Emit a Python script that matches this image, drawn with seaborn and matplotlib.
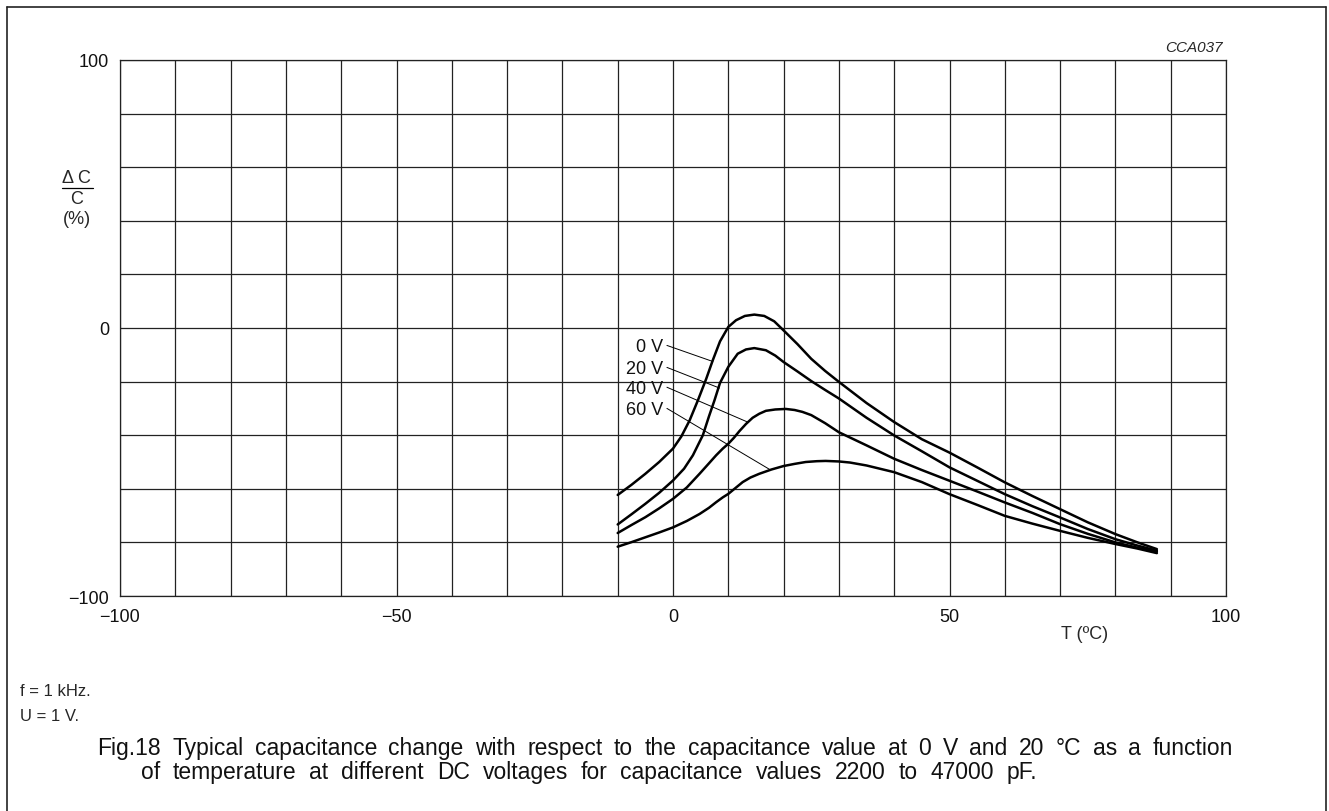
"""
Fig.18 - capacitance change vs temperature at different DC voltages.
"""
import pandas as pd
import matplotlib.pyplot as plt
import seaborn as sns
from matplotlib.lines import Line2D

# curves: temperature (deg C) and delta C / C (%)
T_0V = [-10, -7.5, -5, -2.5, 0, 1.5, 3, 4.5, 6, 7.2, 8.5, 10, 11.4, 13, 14.7,
        16.5, 18.3, 20, 22.5, 25, 27.5, 30, 35, 40, 45, 50, 55, 60, 65, 70,
        75, 80, 84, 87.5]
DC_0V = [-62.3, -58.5, -54.4, -50, -45, -40.5, -34.5, -27, -19, -12, -5, 0.4,
         2.9, 4.5, 5, 4.5, 2.5, -0.9, -6, -11.5, -16, -20.1, -28, -35.1, -41.5,
         -46.5, -52, -57.6, -62.7, -67.6, -72.5, -76.9, -80, -82.5]

T_20V = [-10, -7.5, -5, -2.5, 0, 2, 3.6, 5.4, 6.5, 7.5, 8.5, 10, 11.7, 13.2,
         14.7, 16.8, 18.5, 20, 22.5, 25, 27.5, 30, 35, 40, 45, 50, 55, 60, 65,
         70, 75, 80, 84, 87.5]
DC_20V = [-73.3, -69.5, -65.6, -61.5, -56.9, -52.5, -47.5, -40, -33, -27,
          -20.5, -14.5, -9.6, -8, -7.5, -8.3, -10.3, -12.7, -16.2, -19.8,
          -23.1, -26.3, -33.5, -40.1, -46, -52, -57, -62, -66.5, -70.7, -75,
          -78.8, -81.2, -83.1]

T_40V = [-10, -7.5, -5, -2.5, 0, 2.5, 4.8, 6.5, 7.8, 9, 10, 11, 12, 13.2,
         14.4, 15.6, 16.8, 18.5, 20.4, 22, 23.4, 25, 27.5, 30, 35, 40, 45, 50,
         55, 60, 65, 70, 75, 80, 84, 87.5]
DC_40V = [-76.5, -73.5, -70.6, -67.3, -63.75, -59.5, -54.4, -50.5, -47.5, -45,
          -43.2, -41, -38.5, -35.8, -33.5, -32, -30.9, -30.4, -30.2, -30.6,
          -31.3, -32.5, -35.5, -38.9, -43.8, -48.8, -53, -57, -61, -65.1, -69,
          -73.2, -76.8, -80, -82, -83.5]

T_60V = [-10, -7.5, -5, -2.5, 0, 2.5, 4.8, 6.5, 7.8, 9, 10, 11.3, 12.6, 14,
         15.6, 17.8, 20, 22, 24, 26, 27.6, 30, 32, 35, 40, 45, 50, 55, 60, 65,
         70, 75, 80, 84, 87.5]
DC_60V = [-81.6, -79.9, -78.1, -76.3, -74.4, -72, -69.4, -67.1, -65, -63.2,
          -61.9, -59.7, -57.5, -55.8, -54.4, -52.8, -51.5, -50.7, -50, -49.7,
          -49.6, -49.8, -50.2, -51.3, -53.8, -57.5, -62, -66, -70.1, -73,
          -75.7, -78.3, -80.6, -82.3, -84]

SERIES_NAMES = ["0 V", "20 V", "40 V", "60 V"]

# label height and where each leader line touches its curve
LABEL_Y = [-7, -15.2, -22.6, -30.5]
LEADER_END_T = [7.2, 8.4, 13.5, 17.5]
LEADER_END_V = [-12.5, -22.4, -35.1, -52.8]

X_TICKS = [-100, -50, 0, 50, 100]
Y_TICKS = [-100, 0, 100]

CAPTION_1 = ("Fig.18  Typical capacitance change with respect to the capacitance "
             "value at 0 V and 20 \u00b0C as a function")
CAPTION_2 = ("of temperature at different DC voltages for capacitance values "
             "2200 to 47000 pF.")

W, H = 1329, 812


def _justified(fig, text, x0, x1, y, size):
    # spread the words of one line between x0 and x1 (pixels)
    renderer = fig.canvas.get_renderer()
    words = text.replace("Fig.18  ", "Fig.18 ").split(" ")
    artists = [fig.text(0, 1 - y / H, w, fontsize=size, va="baseline",
                        ha="left", color="#111111") for w in words]
    widths = [a.get_window_extent(renderer).width for a in artists]
    gap = (x1 - x0 - sum(widths)) / (len(words) - 1)
    x = x0
    for a, wd in zip(artists, widths):
        a.set_x(x / W)
        x += wd + gap


sns.set_theme(style="white")
plt.rcParams["font.family"] = ["Liberation Sans", "DejaVu Sans"]

frames = []
for name, ts, vals in zip(SERIES_NAMES, [T_0V, T_20V, T_40V, T_60V],
                          [DC_0V, DC_20V, DC_40V, DC_60V]):
    frames.append(pd.DataFrame({"T": ts, "dC": vals, "U": name}))
df = pd.concat(frames, ignore_index=True)

fig = plt.figure(figsize=(W / 100, H / 100), dpi=100)
ax = fig.add_axes([120 / W, 1 - 597 / H, 1106 / W, 536 / H])

# grid first so the curves sit on top
for x in range(-100, 101, 10):
    ax.axvline(x, color="#222222", lw=0.9, zorder=1)
for y in range(-100, 101, 20):
    ax.axhline(y, color="#222222", lw=0.9, zorder=1)

sns.lineplot(data=df, x="T", y="dC", hue="U", palette=["black"] * 4,
             linewidth=1.8, legend=False, ax=ax, zorder=3)

for name, ly, et, ev in zip(SERIES_NAMES, LABEL_Y, LEADER_END_T, LEADER_END_V):
    ax.text(-1.8, ly, name, ha="right", va="center", fontsize=13,
            color="#111111", zorder=4)
    ax.plot([-1.1, et], [ly + 0.5, ev], color="black", lw=0.7, zorder=4)

ax.set_xlim(-100, 100)
ax.set_ylim(-100, 100)
ax.set_xticks(X_TICKS)
ax.set_xticklabels(["\u2212100", "\u221250", "0", "50", "100"])
ax.set_yticks(Y_TICKS)
ax.set_yticklabels(["\u2212100", "0", "100"])
ax.tick_params(axis="both", length=0, labelsize=13, colors="#111111")
ax.tick_params(axis="x", pad=9)
ax.tick_params(axis="y", pad=8)
ax.set_xlabel("")
ax.set_ylabel("")
for s in ax.spines.values():
    s.set_color("#222222")
    s.set_linewidth(0.9)

# axis labels drawn as text, datasheet style
ax.text(-107.8, 56, "\u0394 C", ha="center", va="center", fontsize=13,
        clip_on=False)
ax.add_line(Line2D([-110.5, -104.9], [52.4, 52.4], color="black", lw=0.9,
                   clip_on=False))
ax.text(-107.8, 48.3, "C", ha="center", va="center", fontsize=13,
        clip_on=False)
ax.text(-107.8, 41.0, "(%)", ha="center", va="center", fontsize=13,
        clip_on=False)
ax.text(74.5, -114, "T (\u00baC)", ha="center", va="center", fontsize=13,
        clip_on=False)
ax.text(99.5, 105, "CCA037", ha="right", va="center", fontsize=11,
        style="italic", clip_on=False)

# notes and caption
fig.text(20 / W, 1 - 692 / H, "f = 1 kHz.", ha="left", va="center",
         fontsize=12)
fig.text(20 / W, 1 - 717 / H, "U = 1 V.", ha="left", va="center",
         fontsize=12)
_justified(fig, CAPTION_1, 97, 1233, 755, 16.5)
_justified(fig, CAPTION_2, 141, 1037, 779, 16.5)

# outer frame (bottom runs off the page)
x0, x1 = 7 / W, 1326 / W
y0 = 1 - 8 / H
for xs, ys in [([x0, x1], [y0, y0]), ([x0, x0], [y0, 0]), ([x1, x1], [y0, 0])]:
    fig.add_artist(Line2D(xs, ys, color="#222222", lw=1.2,
                          transform=fig.transFigure))

fig.savefig("out.png", dpi=100, facecolor="white")
